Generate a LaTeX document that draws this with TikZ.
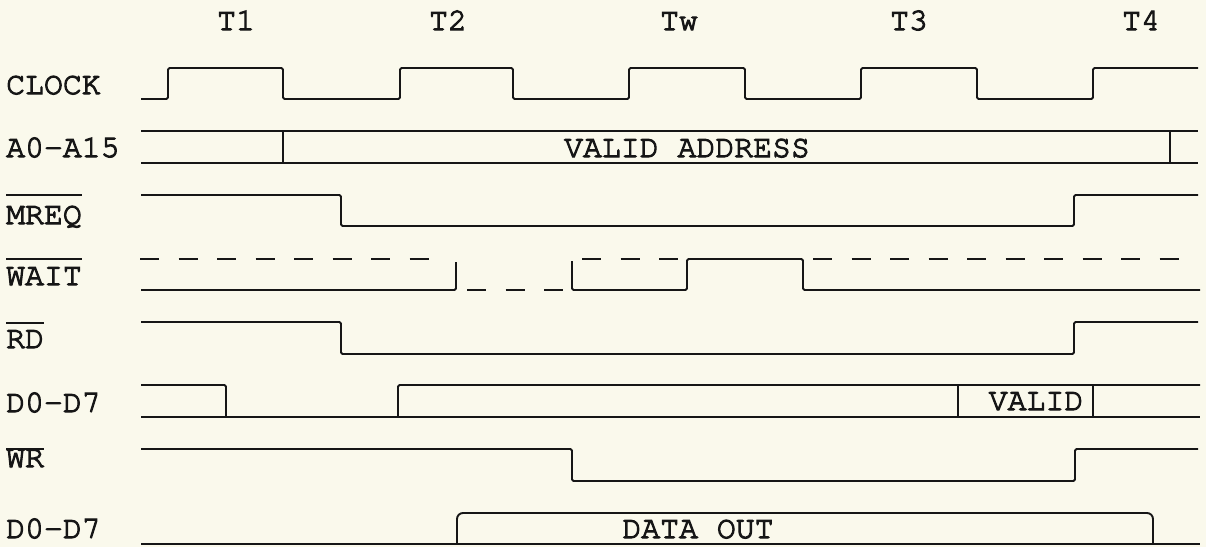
\documentclass[tikz,border=0pt]{standalone}
\usepackage{fontspec}
\newfontfamily\sigfont{TeX Gyre Cursor}[FakeBold=3.5]
\definecolor{paper}{RGB}{250,249,236}
\definecolor{ink}{RGB}{22,22,22}
\tikzset{
  wave/.style={draw=ink, line width=1.9pt, rounded corners=1.5pt, line join=round},
  dashwave/.style={draw=ink, line width=1.9pt, dash pattern=on 19pt off 19.5pt},
  bar/.style={draw=ink, line width=1.9pt},
  sig/.style={inner sep=0pt, anchor=base west, text=ink,
    font=\sigfont\fontsize{31.5pt}{36pt}\selectfont},
  txt/.style={inner sep=0pt, anchor=base, text=ink,
    font=\sigfont\fontsize{31.5pt}{36pt}\selectfont},
}
\begin{document}
\begin{tikzpicture}[x=1pt,y=-1pt]
\fill[paper] (0,0) rectangle (1206,547);
\useasboundingbox (0,0) rectangle (1206,547);

% clock period labels
\node[txt] (t1) at (236,30) {T1};
\node[txt] (t2) at (448,30) {T2};
\node[txt] (tw) at (679,30) {Tw};
\node[txt] (t3) at (909,30) {T3};
\node[txt] (t4) at (1141,30) {T4};

% signal names
\node[sig] (clk)  at (6,94)  {CLOCK};
\node[sig] (addr) at (6,157) {A0-A15};
\node[sig] (mreq) at (6,224) {MREQ};
\node[sig] (wait) at (6,285) {WAIT};
\node[sig] (rd)   at (6,348) {RD};
\node[sig] (din)  at (6,412) {D0-D7};
\node[sig] (wr)   at (6,467) {WR};
\node[sig] (dout) at (6,538) {D0-D7};

% active-low bars
\draw[bar] (mreq.west |- 0,195) -- (mreq.east |- 0,195);
\draw[bar] (wait.west |- 0,259) -- (wait.east |- 0,259);
\draw[bar] (rd.west |- 0,323) -- (rd.east |- 0,323);
\draw[bar] (wr.west |- 0,449) -- (wr.east |- 0,449);

% CLOCK
\draw[wave] (141,99) -- (168,99) -- (168,68) -- (283,68) -- (283,99)
  -- (400,99) -- (400,68) -- (513,68) -- (513,99)
  -- (629,99) -- (629,68) -- (745,68) -- (745,99)
  -- (861,99) -- (861,68) -- (977,68) -- (977,99)
  -- (1093,99) -- (1093,68) -- (1198,68);

% address bus
\draw[wave] (141,131) -- (1198,131);
\draw[wave] (141,163) -- (1198,163);
\draw[wave] (283,131) -- (283,163);
\draw[wave] (1170,131) -- (1170,163);
\node[txt] (va) at (687,157) {VALID ADDRESS};

% MREQ
\draw[wave] (141,195) -- (341,195) -- (341,226) -- (1074,226)
  -- (1074,195) -- (1198,195);

% WAIT
\draw[dashwave] (140,259) -- (429,259);
\draw[wave] (141,290) -- (456,290) -- (456,262);
\draw[dashwave] (467,290) -- (564,290);
\draw[wave] (572,261) -- (572,290) -- (687,290) -- (687,259)
  -- (803,259) -- (803,290) -- (1200,290);
\draw[dashwave] (582,259) -- (679,259);
\draw[dashwave] (813,259) -- (1180,259);

% RD
\draw[wave] (141,322) -- (341,322) -- (341,354) -- (1074,354)
  -- (1074,322) -- (1198,322);

% data bus, read cycle
\draw[wave] (141,385) -- (226,385) -- (226,417);
\draw[wave] (141,417) -- (1200,417);
\draw[wave] (398,417) -- (398,385) -- (1200,385);
\draw[wave] (958,385) -- (958,417);
\draw[wave] (1093,385) -- (1093,417);
\node[txt] (vd) at (1036,410) {VALID};

% WR
\draw[wave] (141,449) -- (572,449) -- (572,481) -- (1075,481)
  -- (1075,449) -- (1198,449);

% data bus, write cycle
\draw[wave] (141,544) -- (1200,544);
\draw[wave, rounded corners=6pt] (457,544) -- (457,513) -- (1153,513) -- (1153,544);
\node[txt] (do) at (698,538) {DATA OUT};
\end{tikzpicture}
\end{document}
